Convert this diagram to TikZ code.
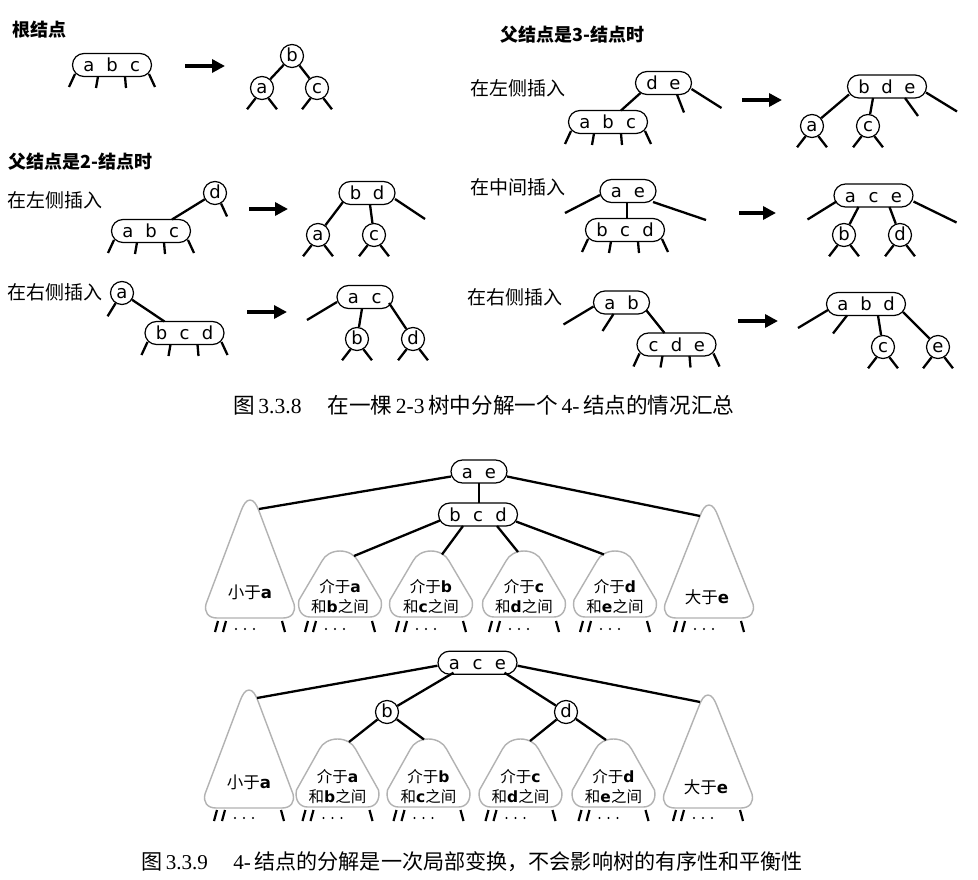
\documentclass[tikz,border=0pt]{standalone}
\usepackage{fontspec}
\setmainfont{Liberation Serif}
\newfontfamily\cjk{Noto Sans CJK SC}
\newfontfamily\lat{DejaVu Sans}
\usetikzlibrary{arrows.meta}
\newcommand\kk[1]{\makebox[23pt]{#1}}
\newcommand\bl[1]{{\lat\bfseries #1}}
\newcommand\fourlegs[1]{\draw[conn] ([shift={(-37,9)}]#1.center) -- ++(-6,13) ([shift={(-14,11.5)}]#1.center) -- ++(-2,11.5) ([shift={(13,11.5)}]#1.center) -- ++(1,11.5) ([shift={(37,9)}]#1.center) -- ++(6,13);}
\newcommand\twolegs[1]{\draw[conn] (#1.238) -- ++(-8.5,11) (#1.302) -- ++(8.5,11);}
% subtree outlines: cx, top y, base y
\newcommand\bigtree[3]{\draw[sub] (#1,#2) .. controls (#1-4,#2) and (#1-6.7,#2+5) .. (#1-9,#2+11) -- (#1-44,#3-14) .. controls (#1-46,#3-6) and (#1-42,#3) .. (#1-33,#3) -- (#1+33,#3) .. controls (#1+42,#3) and (#1+46,#3-6) .. (#1+44,#3-14) -- (#1+9,#2+11) .. controls (#1+6.7,#2+5) and (#1+4,#2) .. (#1,#2) -- cycle;}
\newcommand\smalltree[3]{\draw[sub] (#1,#2) .. controls (#1-8,#2) and (#1-15,#2+4) .. (#1-18,#2+10) -- (#1-41,#3-17) .. controls (#1-43,#3-7) and (#1-38,#3) .. (#1-30,#3) -- (#1+30,#3) .. controls (#1+38,#3) and (#1+43,#3-7) .. (#1+41,#3-17) -- (#1+18,#2+10) .. controls (#1+15,#2+4) and (#1+8,#2) .. (#1,#2) -- cycle;}
\newcommand\feet[2]{\draw[foot] (#1-32,#2+3) -- (#1-35,#2+14) (#1-24,#2+3) -- (#1-27,#2+14) (#1+32,#2+3) -- (#1+35,#2+14);
 \fill (#1-14,#2+11) circle[radius=1.2pt] (#1-5,#2+11) circle[radius=1.2pt] (#1+4,#2+11) circle[radius=1.2pt];}
\tikzset{
 kn/.style={draw, line width=1.2pt, rounded corners=11.5pt, minimum height=23pt, inner xsep=5pt, inner ysep=0pt, text height=13.5pt, text depth=0pt, font=\lat\fontsize{18}{18}\selectfont},
 cn/.style={draw, circle, line width=1.2pt, minimum size=23pt, inner sep=0pt, text height=11.5pt, text depth=0pt, font=\lat\fontsize{18}{18}\selectfont},
 conn/.style={line width=2.3pt},
 foot/.style={line width=2.2pt},
 bigarrow/.style={line width=4.5pt, -{Triangle[length=13pt,width=13pt]}},
 lab/.style={anchor=west, inner sep=0pt, font=\cjk\fontsize{19}{19}\selectfont},
 head/.style={anchor=west, inner sep=0pt, font=\cjk\bfseries\fontsize{18}{18}\selectfont},
 sub/.style={draw=black!30, line width=1.4pt},
 tl/.style={align=center, inner sep=0pt, font=\cjk\fontsize{15.5}{20}\selectfont},
 tlb/.style={inner sep=0pt, font=\cjk\fontsize{16.5}{20}\selectfont},
 captxt/.style={anchor=west, inner sep=0pt, font=\fontsize{21.6}{21.6}\selectfont},
}
\begin{document}
\begin{tikzpicture}[x=1pt,y=-1pt]
\useasboundingbox[fill=white] (0,0) rectangle (978,880);
% headings and labels
\node[head] (h1) at (12,30) {根结点};
\node[head] (h2) at (8,162) {父结点是2-结点时};
\node[head] (h3) at (500,35) {父结点是3-结点时};
\node[lab] (l1) at (7,200) {在左侧插入};
\node[lab] (l2) at (7,292) {在右侧插入};
\node[lab] (l3) at (470,88) {在左侧插入};
\node[lab] (l4) at (470,187) {在中间插入};
\node[lab] (l5) at (467,297) {在右侧插入};
% root
\node[kn] (n1) at (112,65) {\kk{a}\kk{b}\kk{c}};
\fourlegs{n1}
\draw[bigarrow] (185,66) -- (225,66);
\node[cn] (n1b) at (292,56) {b};
\node[cn] (n1a) at (262,88) {a};
\node[cn] (n1c) at (317,88) {c};
\draw[conn] (n1b) -- (n1a) (n1b) -- (n1c);
\twolegs{n1a}\twolegs{n1c}
% parent 2-node, left
\node[cn] (p2d) at (215,193) {d};
\node[kn] (p2abc) at (151,231) {\kk{a}\kk{b}\kk{c}};
\draw[conn] (p2d) -- ([shift={(21,-11.5)}]p2abc.center);
\draw[conn] (p2d.300) -- ++(6,13);
\fourlegs{p2abc}
\draw[bigarrow] (249,209) -- (288,209);
\node[kn] (p2bd) at (367,193) {\kk{b}\kk{d}};
\node[cn] (p2a) at (318,235) {a};
\node[cn] (p2c) at (374,235) {c};
\draw[conn] ([shift={(-24,9)}]p2bd.center) -- (p2a);
\draw[conn] ([shift={(3,11.5)}]p2bd.center) -- (p2c);
\draw[conn] ([shift={(28,6)}]p2bd.center) -- ++(30,20);
\twolegs{p2a}\twolegs{p2c}
% parent 2-node, right
\node[cn] (p3a) at (122,293) {a};
\draw[conn] (p3a.238) -- ++(-8,13);
\node[kn] (p3bcd) at (184.5,333) {\kk{b}\kk{c}\kk{d}};
\draw[conn] (p3a) -- ([shift={(-20,-11.5)}]p3bcd.center);
\fourlegs{p3bcd}
\draw[bigarrow] (247,312) -- (287,312);
\node[kn] (p3ac) at (365,297) {\kk{a}\kk{c}};
\node[cn] (p3b) at (357,339) {b};
\node[cn] (p3d) at (413,339) {d};
\draw[conn] ([shift={(-28,5)}]p3ac.center) -- ++(-30,18);
\draw[conn] ([shift={(-3,11.5)}]p3ac.center) -- (p3b);
\draw[conn] ([shift={(24,6)}]p3ac.center) -- (p3d);
\twolegs{p3b}\twolegs{p3d}
% parent 3-node, left
\node[kn] (q1de) at (663.5,83) {\kk{d}\kk{e}};
\node[kn] (q1abc) at (608,122) {\kk{a}\kk{b}\kk{c}};
\draw[conn] ([shift={(-23,10)}]q1de.center) -- ([shift={(13,-11.5)}]q1abc.center);
\draw[conn] ([shift={(13.5,11.5)}]q1de.center) -- ++(7,18);
\draw[conn] ([shift={(28,6)}]q1de.center) -- ++(30,19);
\fourlegs{q1abc}
\draw[bigarrow] (742,100) -- (782,100);
\node[kn] (q1bde) at (887,86.5) {\kk{b}\kk{d}\kk{e}};
\node[cn] (q1a) at (812,126) {a};
\node[cn] (q1c) at (868,126) {c};
\draw[conn] ([shift={(-38,8)}]q1bde.center) -- (q1a);
\draw[conn] ([shift={(-14,11.5)}]q1bde.center) -- (q1c);
\draw[conn] ([shift={(18,11.5)}]q1bde.center) -- ++(13,18);
\draw[conn] ([shift={(39,6)}]q1bde.center) -- ++(31,19);
\twolegs{q1a}\twolegs{q1c}
% parent 3-node, middle
\node[kn] (q2ae) at (628,191) {\kk{a}\kk{e}};
\node[kn] (q2bcd) at (625,230) {\kk{b}\kk{c}\kk{d}};
\draw[conn] ([shift={(-28,4)}]q2ae.center) -- ++(-35,18);
\draw[conn] ([shift={(25,11)}]q2ae.center) -- ++(53,18);
\draw[conn] ([shift={(-1,11.5)}]q2ae.center) -- ([shift={(2,-11.5)}]q2bcd.center);
\fourlegs{q2bcd}
\draw[bigarrow] (739,213) -- (776,213);
\node[kn] (q2ace) at (873.5,195.5) {\kk{a}\kk{c}\kk{e}};
\node[cn] (q2b) at (844,235) {b};
\node[cn] (q2d) at (900,235) {d};
\draw[conn] ([shift={(-37,6)}]q2ace.center) -- ++(-29,18);
\draw[conn] ([shift={(40,6)}]q2ace.center) -- ++(43,21);
\draw[conn] ([shift={(-15,11.5)}]q2ace.center) -- (q2b);
\draw[conn] ([shift={(16,11.5)}]q2ace.center) -- (q2d);
\twolegs{q2b}\twolegs{q2d}
% parent 3-node, right
\node[kn] (q3ab) at (621.5,302.5) {\kk{a}\kk{b}};
\node[kn] (q3cde) at (676.5,344.5) {\kk{c}\kk{d}\kk{e}};
\draw[conn] ([shift={(-28,4)}]q3ab.center) -- ++(-30,18);
\draw[conn] ([shift={(-8,11.5)}]q3ab.center) -- ++(-11,17);
\draw[conn] ([shift={(25,8)}]q3ab.center) -- ([shift={(-12,-11.5)}]q3cde.center);
\fourlegs{q3cde}
\draw[bigarrow] (738,321) -- (778,321);
\node[kn] (q3abd) at (866,304) {\kk{a}\kk{b}\kk{d}};
\node[cn] (q3c) at (883,347) {c};
\node[cn] (q3e) at (938,347) {e};
\draw[conn] ([shift={(-38,6)}]q3abd.center) -- ++(-30,18);
\draw[conn] ([shift={(-19,11.5)}]q3abd.center) -- ++(-14,18);
\draw[conn] ([shift={(12,11.5)}]q3abd.center) -- (q3c);
\draw[conn] ([shift={(37,8)}]q3abd.center) -- (q3e);
\twolegs{q3c}\twolegs{q3e}
% caption 1
\node[captxt] (cap1) at (233,405) {{\cjk 图}\,3.3.8\hspace{1.2em}{\cjk 在一棵}\,2-3\,{\cjk 树中分解一个}\,4-\,{\cjk 结点的情况汇总}};
% ===== bottom tree 1 =====
\bigtree{250}{500}{618}
\smalltree{340}{551}{617}
\smalltree{431}{551}{617}
\smalltree{524}{551}{617}
\smalltree{615}{551}{617}
\bigtree{709}{505}{618}
\feet{250}{618}\feet{340}{618}\feet{431}{618}\feet{524}{618}\feet{615}{618}\feet{709}{618}
\node[kn] (b1ae) at (479,471.5) {\kk{a}\kk{e}};
\node[kn] (b1bcd) at (478,514.5) {\kk{b}\kk{c}\kk{d}};
\draw[conn] ([shift={(0,11.5)}]b1ae.center) -- ([shift={(1,-11.5)}]b1bcd.center);
\coordinate (b1e1) at (259,509);
\coordinate (b1e2) at (354,556);
\coordinate (b1e3) at (442,554.5);
\coordinate (b1e4) at (518,552);
\coordinate (b1e5) at (604,554.5);
\coordinate (b1e6) at (700,516);
\draw[conn] ([shift={(-28,5)}]b1ae.center) -- (b1e1);
\draw[conn] ([shift={(28,5)}]b1ae.center) -- (b1e6);
\draw[conn] ([shift={(-38,6)}]b1bcd.center) -- (b1e2);
\draw[conn] ([shift={(-15,11.5)}]b1bcd.center) -- (b1e3);
\draw[conn] ([shift={(19,11.5)}]b1bcd.center) -- (b1e4);
\draw[conn] ([shift={(38,7)}]b1bcd.center) -- (b1e5);
\node[tlb] (b1l1) at (250,592) {小于\bl{a}};
\node[tl] (b1l2) at (340,597) {介于\bl{a}\\和\bl{b}之间};
\node[tl] (b1l3) at (431,597) {介于\bl{b}\\和\bl{c}之间};
\node[tl] (b1l4) at (524,597) {介于\bl{c}\\和\bl{d}之间};
\node[tl] (b1l5) at (615,597) {介于\bl{d}\\和\bl{e}之间};
\node[tlb] (b1l6) at (707,597) {大于\bl{e}};
% ===== bottom tree 2 =====
\bigtree{249}{690}{808}
\smalltree{337.5}{739}{807}
\smalltree{428.5}{739}{807}
\smalltree{520.5}{739}{807}
\smalltree{613.5}{739}{807}
\bigtree{708}{695}{808}
\feet{249}{807}\feet{337.5}{807}\feet{428.5}{807}\feet{520.5}{807}\feet{613.5}{807}\feet{708}{807}
\node[kn] (b2ace) at (477.5,662.7) {\kk{a}\kk{c}\kk{e}};
\node[cn] (b2b) at (387,712) {b};
\node[cn] (b2d) at (566,712) {d};
\coordinate (b2e1) at (257,698);
\coordinate (b2e2) at (349,742);
\coordinate (b2e3) at (424,739.5);
\coordinate (b2e4) at (530,741);
\coordinate (b2e5) at (606,740);
\coordinate (b2e6) at (700,702);
\draw[conn] ([shift={(-40,3)}]b2ace.center) -- (b2e1);
\draw[conn] ([shift={(40,3)}]b2ace.center) -- (b2e6);
\draw[conn] ([shift={(-24,10)}]b2ace.center) -- (b2b);
\draw[conn] ([shift={(27,10)}]b2ace.center) -- (b2d);
\draw[conn] (b2b) -- (b2e2) (b2b) -- (b2e3);
\draw[conn] (b2d) -- (b2e4) (b2d) -- (b2e5);
\node[tlb] (b2l1) at (249,782) {小于\bl{a}};
\node[tl] (b2l2) at (337.5,787) {介于\bl{a}\\和\bl{b}之间};
\node[tl] (b2l3) at (428.5,787) {介于\bl{b}\\和\bl{c}之间};
\node[tl] (b2l4) at (520.5,787) {介于\bl{c}\\和\bl{d}之间};
\node[tl] (b2l5) at (613.5,787) {介于\bl{d}\\和\bl{e}之间};
\node[tlb] (b2l6) at (706,787) {大于\bl{e}};
% caption 2
\node[captxt, font=\fontsize{21.1}{21.1}\selectfont] (cap2) at (141,862) {{\cjk 图}\,3.3.9\hspace{1.2em}4-\,{\cjk 结点的分解是一次局部变换，不会影响树的有序性和平衡性}};
\end{tikzpicture}
\end{document}
